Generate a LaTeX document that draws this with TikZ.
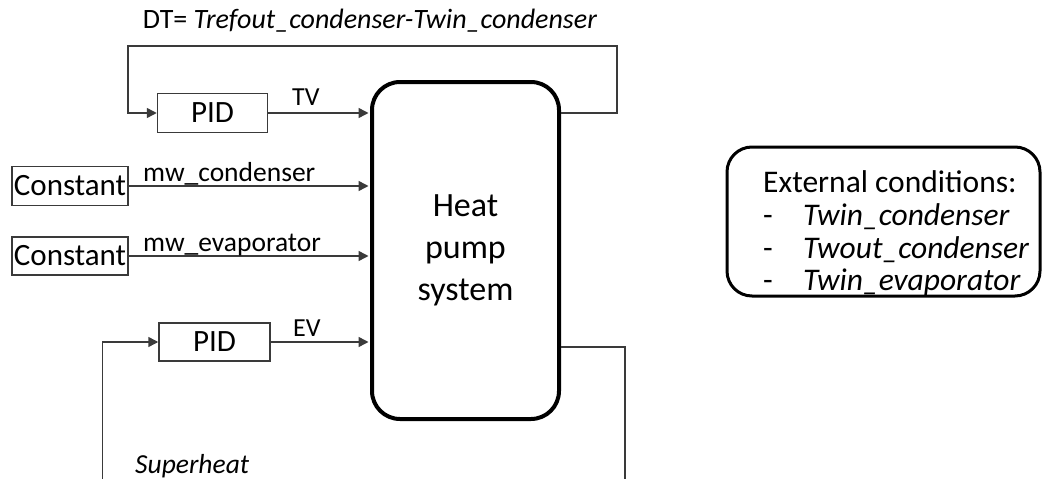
\documentclass[tikz,border=0pt]{standalone}
\usepackage{fontspec}
\setmainfont{Carlito}
\usetikzlibrary{arrows.meta}
\definecolor{linegray}{HTML}{3A3A3A}
\tikzset{
  thinline/.style={draw=linegray, line width=1.5pt},
  sig/.style={thinline, -{Triangle[length=10pt,width=10pt]}},
  blockbox/.style={draw=linegray, line width=1.5pt, inner sep=0pt, font=\fontsize{31}{36}\selectfont},
  mainbox/.style={draw=black, line width=4pt, rounded corners=28pt, inner sep=0pt, align=center, font=\fontsize{34}{42}\selectfont},
  extbox/.style={draw=black, line width=3pt, rounded corners=25pt, inner sep=0pt},
  lbl/.style={inner sep=0pt, font=\fontsize{27.5}{32}\selectfont},
  sglbl/.style={inner sep=0pt, font=\fontsize{26}{30}\selectfont},
  extlbl/.style={inner sep=0pt, font=\fontsize{31.5}{34}\selectfont},
}
\begin{document}
\begin{tikzpicture}[x=1pt, y=-1pt]
\useasboundingbox (0,0) rectangle (1045,479);

% main system block
\node[mainbox, minimum width=187pt, minimum height=337pt] (hp) at (465.5,250.5) {Heat\\pump\\system};

% controllers and constants
\node[blockbox, minimum width=110pt, minimum height=39pt] (pid1) at (212.5,113) {PID};
\node[blockbox, minimum width=111pt, minimum height=38pt] (pid2) at (214.5,342) {PID};
\node[blockbox, minimum width=116pt, minimum height=39pt] (c1) at (70,186) {Constant};
\node[blockbox, minimum width=116pt, minimum height=38pt] (c2) at (70,256) {Constant};

% signals into the system
\draw[sig, shorten >=1.5pt] (pid1.east) -- (pid1.east -| hp.west);
\draw[sig, shorten >=1.5pt] (c1.east) -- (c1.east -| hp.west);
\draw[sig, shorten >=1.5pt] (c2.east) -- (c2.east -| hp.west);
\draw[sig, shorten >=1.5pt] (pid2.east) -- (pid2.east -| hp.west);

% signal labels
\node[sglbl, anchor=base west] (tvl) at (292,105) {TV};
\node[lbl, anchor=base west] (mwc) at (143,181) {mw\_condenser};
\node[lbl, anchor=base west] (mwe) at (143,251) {mw\_evaporator};
\node[sglbl, anchor=base west] (evl) at (293,336) {EV};

% top feedback loop
\coordinate (tr) at (617,46);
\coordinate (tl) at (128,46);
\draw[sig] (hp.east |- 0,113) -- (tr |- 0,113) -- (tr) -- (tl) -- (tl |- pid1.west) -- (pid1.west);
\node[inner sep=0pt, font=\fontsize{28}{32}\selectfont, anchor=base] (dt) at (370,28) {DT= \textit{Trefout\_condenser-Twin\_condenser}};

% bottom feedback loop (cut at the picture edge)
\coordinate (br) at (625,480);
\coordinate (bl) at (102.5,480);
\draw[thinline] (hp.east |- 0,347) -- (br |- 0,347) -- (br);
\draw[sig] (bl) -- (bl |- pid2.west) -- (pid2.west);
\node[lbl, anchor=base west] (sh) at (135,473) {\textit{Superheat}};

% external conditions
\node[extbox, minimum width=313pt, minimum height=149pt] (ext) at (883.5,221.5) {};
\node[extlbl, anchor=base west] (e0) at (763,192) {External conditions:};
\node[extlbl, anchor=base west] (e1) at (763,225) {-};
\node[extlbl, anchor=base west] (e2) at (763,258) {-};
\node[extlbl, anchor=base west] (e3) at (763,290) {-};
\node[extlbl, anchor=base west] (t1) at (803,225) {\textit{Twin\_condenser}};
\node[extlbl, anchor=base west] (t2) at (803,258) {\textit{Twout\_condenser}};
\node[extlbl, anchor=base west] (t3) at (803,290) {\textit{Twin\_evaporator}};
\end{tikzpicture}
\end{document}
